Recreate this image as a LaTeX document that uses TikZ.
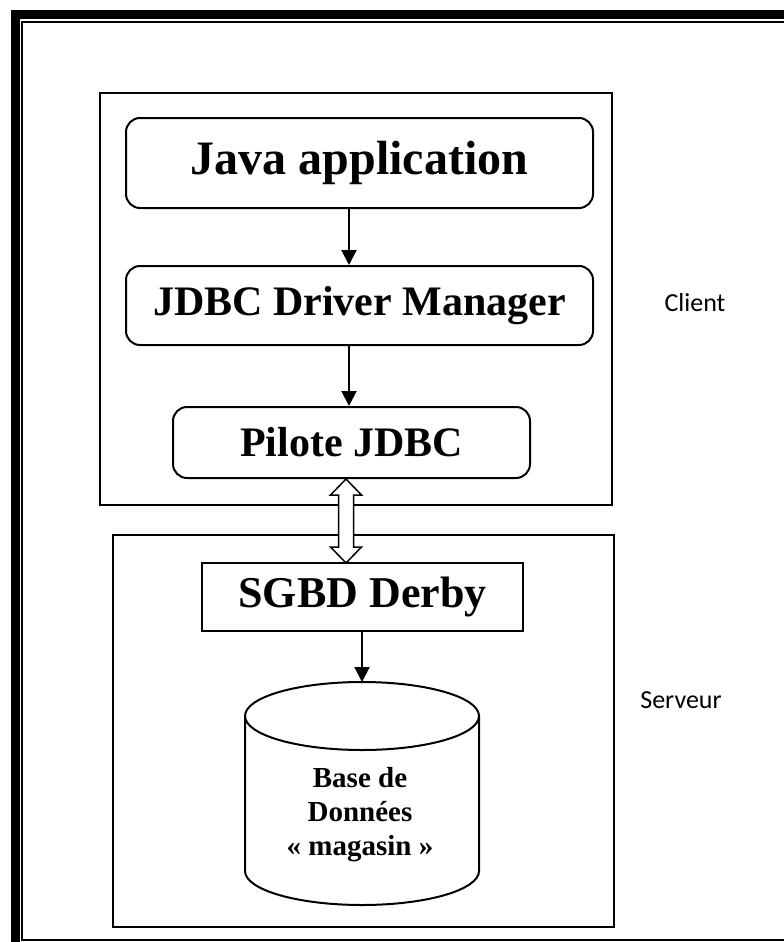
\documentclass[tikz,border=0pt]{standalone}
\usepackage{fontspec}
\setmainfont{Liberation Serif}
\newfontfamily\labfont{Carlito}
\usetikzlibrary{arrows.meta,calc}
\begin{document}
\begin{tikzpicture}[x=1pt,y=1pt,
  frame/.style={draw,line width=2.2pt,inner sep=0pt},
  rbox/.style={draw,line width=2pt,rounded corners=14pt,inner sep=0pt},
  sbox/.style={draw,line width=2pt,inner sep=0pt},
  arr/.style={line width=2pt,-{Triangle[length=15pt,width=15pt]}},
  side/.style={font=\labfont\fontsize{26}{30}\selectfont}
]
\useasboundingbox (0,0) rectangle (784,-942);
% page border
\draw[line width=9pt] (15.5,-942) -- (15.5,-14.5) -- (784,-14.5);
\draw[line width=2pt] (784,-22) -- (22,-22) -- (22,-940.3) -- (784,-940.3);
% group frames
\node[frame,minimum width=512,minimum height=412] (client) at (356,-299) {};
\node[frame,minimum width=501,minimum height=392] (serveur) at (363.5,-731) {};
% boxes
\node[rbox,minimum width=467,minimum height=90,font=\bfseries\fontsize{48}{54}\selectfont] (java) at (359.5,-163) {Java application};
\node[rbox,minimum width=467,minimum height=79,font=\bfseries\fontsize{42}{48}\selectfont] (dm) at (359.5,-305.5) {JDBC Driver Manager};
\node[rbox,minimum width=357,minimum height=71,font=\bfseries\fontsize{42}{48}\selectfont] (pilote) at (351.5,-442.5) {Pilote JDBC};
\node[sbox,minimum width=321,minimum height=68,font=\bfseries\fontsize{44}{50}\selectfont] (sgbd) at (362.5,-597) {SGBD Derby};
% database cylinder
\draw[line width=2pt] (362,-716) ellipse [x radius=117,y radius=34];
\draw[line width=2pt] (245,-716) -- (245,-871) arc[start angle=180,end angle=360,x radius=117,y radius=34] -- (479,-716);
\coordinate (dbtop) at (362,-682);
\node[font=\bfseries\fontsize{29}{34}\selectfont,align=center] (db) at (360,-815) {Base de\\Données\\« magasin »};
% side labels
\node[side] (lclient) at (695,-303) {Client};
\node[side] (lserveur) at (681,-700) {Serveur};
% connectors
\coordinate (ax) at (349,0);
\draw[arr] (java.south -| ax) -- (dm.north -| ax);
\draw[arr] (dm.south -| ax) -- (pilote.north -| ax);
\coordinate (dx) at (346,0);
\draw[line width=1.5pt,fill=white,line join=miter] (pilote.south -| dx) -- ++(15.5,-16) -- ++(-8,0) -- ++(0,-52) -- ++(8,0) -- ++(-15.5,-16) -- ++(-15.5,16) -- ++(8,0) -- ++(0,52) -- ++(-8,0) -- cycle;
\draw[arr] (sgbd.south -| dbtop) -- (dbtop);
\end{tikzpicture}
\end{document}
